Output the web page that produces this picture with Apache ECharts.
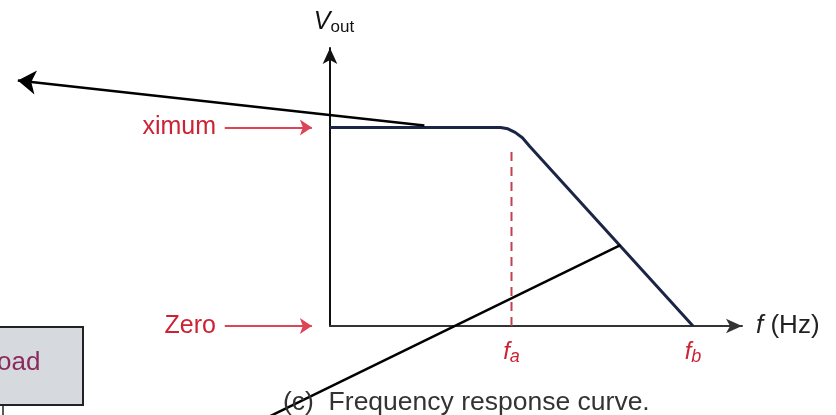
<!DOCTYPE html>
<html>
<head>
<meta charset="utf-8">
<script src="https://cdn.jsdelivr.net/npm/echarts@6/dist/echarts.min.js"></script>
<style>
  html, body { margin: 0; padding: 0; background: #fff; }
  #chart { width: 836px; height: 415px; }
</style>
</head>
<body>
<div id="chart"></div>
<script>
// frequency response curve (x in units of fa, y in units of max output)
const freq = [0, 0.94, 0.98, 1.02, 1.06, 1.1, 2.0];
const vout = [1, 1, 0.993, 0.975, 0.948, 0.905, 0];
// cutoff frequencies fa, fb
const cutoffs = [1, 2];
const cutoffNames = ['a', 'b'];
// y levels and their labels
const levels = [0, 1];
const levelNames = ['Zero', 'ximum'];
// dashed marker at fa
const faMarkTop = 0.88;
// red pointers from the labels to the axis
const pointerStart = -0.58;
const pointerEnd = -0.1;
// black leader lines laid over the figure
const leaderA = [[0.52, 1.01], [-1.72, 1.236]];
const leaderB = [[1.6, 0.407], [-0.44, -0.503]];

const font = '"Liberation Sans", Arial, sans-serif';
const red = '#cc2233';

const chart = echarts.init(document.getElementById('chart'));

const option = {
  animation: false,
  backgroundColor: '#fff',
  title: {
    text: '(c)  Frequency response curve.',
    left: 283,
    top: 389,
    padding: 0,
    textStyle: { fontFamily: font, fontSize: 26.5, fontWeight: 'normal', color: '#333' }
  },
  grid: { left: 330, top: 48, width: 412, height: 278 },
  xAxis: {
    type: 'value',
    min: 0,
    max: 2.27,
    interval: 1,
    name: '{i|f} (Hz)',
    nameLocation: 'end',
    nameGap: 14,
    nameTextStyle: {
      fontFamily: font, fontSize: 26, color: '#222',
      rich: { i: { fontFamily: font, fontSize: 26, fontStyle: 'italic', color: '#222' } }
    },
    splitLine: { show: false },
    axisTick: { show: false },
    axisLine: {
      onZero: false,
      symbol: ['none', 'arrow'],
      symbolSize: [11, 16],
      lineStyle: { color: '#333', width: 2 }
    },
    axisLabel: {
      margin: 12,
      showMaxLabel: false,
      formatter: v => {
        const k = cutoffs.indexOf(v);
        return k < 0 ? '' : '{f|f}{s|' + cutoffNames[k] + '}';
      },
      rich: {
        f: { fontFamily: font, fontSize: 24, fontStyle: 'italic', color: red },
        s: { fontFamily: font, fontSize: 18, fontStyle: 'italic', color: red, padding: [10, 0, 0, 0] }
      }
    }
  },
  yAxis: {
    type: 'value',
    min: 0,
    max: 1.4,
    interval: 1,
    name: '{v|V}{o|out}',
    nameLocation: 'end',
    nameGap: 12,
    nameTextStyle: {
      padding: [0, 0, 0, 8],
      rich: {
        v: { fontFamily: font, fontSize: 25, fontStyle: 'italic', color: '#111' },
        o: { fontFamily: font, fontSize: 17, color: '#111', padding: [10, 0, 0, 0] }
      }
    },
    splitLine: { show: false },
    axisTick: { show: false },
    axisLine: {
      symbol: ['none', 'arrow'],
      symbolSize: [11, 16],
      lineStyle: { color: '#111', width: 2 }
    },
    axisLabel: {
      margin: 114,
      showMaxLabel: false,
      fontFamily: font,
      fontSize: 25,
      color: red,
      formatter: v => {
        const k = levels.indexOf(v);
        return k < 0 ? '' : levelNames[k];
      }
    }
  },
  series: [
    {
      name: 'response',
      type: 'line',
      data: freq.map((f, i) => [f, vout[i]]),
      showSymbol: false,
      lineStyle: { color: '#1c2545', width: 3 },
      z: 3
    },
    {
      name: 'fa',
      type: 'line',
      data: [[cutoffs[0], 0], [cutoffs[0], faMarkTop]],
      showSymbol: false,
      lineStyle: { color: '#c2414f', width: 2, type: [9, 6] },
      z: 2
    },
    {
      name: 'pointers',
      type: 'lines',
      coordinateSystem: 'cartesian2d',
      clip: false,
      symbol: ['none', 'arrow'],
      symbolSize: 12,
      lineStyle: { color: '#dd4455', width: 2, opacity: 1 },
      data: levels.map(y => ({ coords: [[pointerStart, y], [pointerEnd, y]] })),
      z: 4
    },
    {
      name: 'leaders',
      type: 'lines',
      coordinateSystem: 'cartesian2d',
      clip: false,
      lineStyle: { color: '#000', width: 2.5, opacity: 1 },
      data: [
        { coords: leaderA, symbol: ['none', 'arrow'], symbolSize: 18 },
        { coords: leaderB, symbol: ['none', 'none'] }
      ],
      z: 6
    }
  ],
  graphic: [
    {
      type: 'rect',
      shape: { x: -10, y: 327, width: 93, height: 78 },
      style: { fill: '#d6d9dd', stroke: '#222', lineWidth: 2 }
    },
    {
      type: 'text',
      x: -3,
      y: 350,
      style: { text: 'oad', font: '26px "Liberation Sans", Arial, sans-serif', fill: '#8a2a5c' }
    },
    {
      type: 'line',
      shape: { x1: 3, y1: 405, x2: 3, y2: 415 },
      style: { stroke: '#222', lineWidth: 1.5 }
    }
  ]
};

chart.setOption(option);
</script>
</body>
</html>
